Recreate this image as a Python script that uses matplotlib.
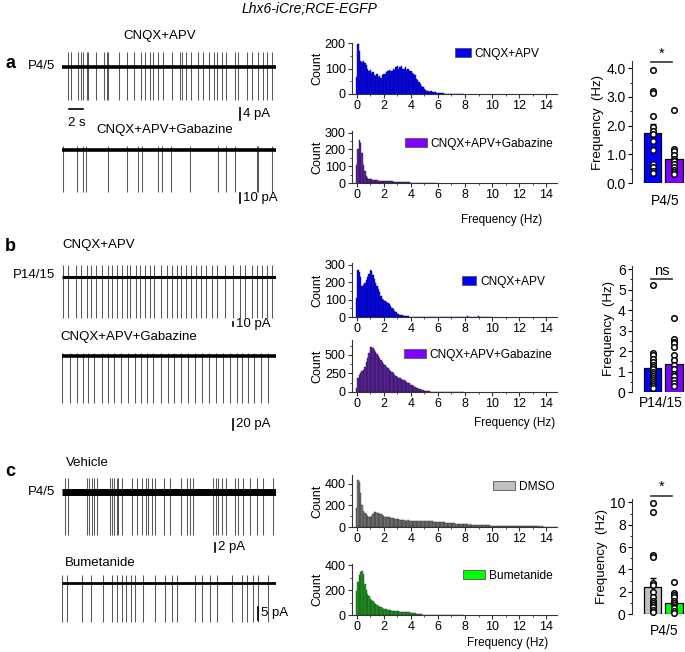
import numpy as np
import matplotlib
matplotlib.use("Agg")
import matplotlib.pyplot as plt
from matplotlib.patches import Patch
from matplotlib.ticker import MultipleLocator

plt.rcParams['font.family'] = ['Liberation Sans', 'DejaVu Sans']

W, H = 685, 652
PPS = 7.0  # trace pixels per second
DUR = 30.5

# ---- spike times (s) for the example traces ----
a_ctrl_events = [0.81, 1.29, 2.24, 2.71, 2.95, 3.52, 3.76, 4.81, 6.05, 6.38, 6.62, 8.14,
                 9.24, 10.33, 11.29, 11.86, 12.57, 13.05, 13.76, 14.48, 15.67, 16.86,
                 17.10, 17.67, 18.43, 19.48, 20.19, 21.0, 21.76, 22.1, 22.81, 23.38,
                 24.71, 25.19, 26.38, 27.1, 28.05, 28.76, 29.24, 30.05]
a_gbz_events = [0.19, 2.1, 3.05, 3.38, 6.52, 9.24, 10.81, 11.48, 13.76, 14.33, 15.57,
                18.29, 22.24, 23.38, 24.71, 27.81, 28.05, 30.05]
b_ctrl_events = [0.19, 0.90, 1.95, 2.71, 3.52, 4.14, 4.81, 5.67, 6.52, 7.19, 7.81, 8.52,
                 9.24, 9.71, 10.52, 11.14, 11.86, 12.57, 13.19, 14.14, 14.95, 15.76,
                 16.38, 17.0, 17.67, 18.43, 19.1, 19.86, 20.52, 21.38, 22.1, 23.29,
                 24.48, 25.43, 26.14, 27.1, 27.81, 28.52, 29.24, 29.95]
b_gbz_events = [0.05, 1.14, 2.1, 3.05, 3.76, 4.62, 5.67, 6.52, 7.48, 8.43, 9.38, 10.43,
                11.29, 12.1, 13.05, 14.14, 15.19, 16.05, 17.0, 17.95, 19.0, 19.95, 21.0,
                21.95, 23.05, 24.0, 24.95, 25.76, 26.52, 27.48, 28.43, 29.48]
c_veh_events = [0.43, 0.90, 3.52, 3.86, 4.24, 4.62, 4.95, 6.86, 7.10, 7.48, 7.81, 8.05,
                8.52, 9.95, 10.67, 11.48, 11.95, 12.33, 12.81, 13.29, 14.62, 15.43,
                17.0, 17.81, 18.29, 18.76, 21.62, 21.95, 22.33, 22.81, 23.38, 24.71,
                25.1, 25.9, 26.86, 27.81, 28.76, 30.19]
c_bum_events = [0.05, 0.67, 2.90, 4.14, 5.90, 7.10, 7.81, 8.52, 9.10, 9.86, 10.43, 11.62,
                13.29, 14.71, 15.67, 16.38, 19.0, 19.95, 21.14, 22.1, 24.24, 25.67,
                26.38, 27.33, 28.05, 29.48]

# ---- inter-event frequency histograms, 0.1 Hz bins starting at 0 ----
BIN = 0.1
hist_a_ctrl = [65, 195, 170, 130, 125, 128, 120, 112, 100, 92,
               96, 82, 86, 76, 70, 80, 66, 72, 62, 74,
               80, 78, 86, 90, 95, 92, 90, 100, 96, 105,
               108, 100, 106, 110, 100, 98, 104, 96, 100, 92,
               90, 84, 80, 74, 60, 55, 48, 40, 30, 26,
               20, 16, 12, 10, 8, 10, 8, 6, 6, 4,
               3, 3, 2, 2, 2, 1, 1, 1, 1, 1,
               1, 1, 0, 1, 0, 1, 0, 0, 1, 0]
hist_a_gbz = [105, 205, 255, 240, 180, 110, 70, 42, 30, 25,
              22, 25, 20, 18, 16, 15, 14, 13, 13, 12,
              14, 12, 13, 11, 10, 10, 9, 8, 8, 7,
              7, 6, 6, 5, 5, 4, 4, 3, 3, 3,
              2, 2, 2, 2, 1, 1, 1, 1, 1, 1,
              1, 0, 1, 0, 1, 0, 0, 1, 0, 0]
hist_b_ctrl = [110, 268, 258, 230, 178, 182, 196, 214, 232, 248,
               268, 262, 240, 220, 198, 178, 160, 142, 122, 106,
               100, 94, 88, 80, 74, 64, 54, 44, 36, 28,
               20, 16, 12, 10, 10, 8, 6, 4, 3, 2,
               2, 2, 1, 1, 2, 1, 1, 0, 1, 0,
               1, 0, 1, 0, 0, 1, 0, 0, 1, 0,
               0, 1, 0, 0, 0, 0, 1, 0, 0, 0,
               0, 0, 1, 0, 0, 0, 0, 0, 0, 1,
               0, 2, 3, 1, 0, 0, 0, 0, 1, 0,
               3, 1, 0, 0, 0, 0, 0, 0, 0, 0,
               1]
hist_b_gbz = [60, 190, 230, 260, 280, 300, 340, 400, 460, 530,
              600, 605, 590, 565, 535, 505, 480, 455, 430, 405,
              380, 360, 340, 320, 300, 285, 270, 250, 235, 220,
              205, 195, 185, 175, 165, 155, 145, 135, 125, 115,
              100, 90, 80, 70, 60, 50, 42, 36, 30, 25,
              20, 16, 13, 10, 8, 6, 5, 4, 3, 3,
              2, 2, 1, 1, 1, 1, 1, 0, 1, 0,
              1, 0, 0, 1, 0, 0, 0, 0, 0, 0]
hist_c_dmso = [180, 430, 415, 310, 200, 145, 130, 120, 105, 95,
               92, 100, 120, 140, 135, 130, 126, 124, 118, 110,
               100, 96, 92, 90, 88, 85, 82, 80, 78, 75,
               72, 70, 68, 66, 64, 62, 60, 60, 62, 60,
               60, 58, 58, 60, 57, 56, 58, 60, 56, 55,
               58, 55, 56, 60, 54, 52, 55, 50, 48, 50,
               48, 45, 46, 44, 42, 45, 40, 38, 40, 36,
               36, 34, 35, 32, 30, 32, 28, 30, 26, 28,
               26, 25, 24, 22, 24, 20, 22, 20, 18, 20,
               18, 17, 18, 16, 15, 16, 14, 15, 14, 13,
               13, 12, 13, 12, 11, 12, 10, 11, 10, 10,
               10, 9, 10, 9, 9, 8, 9, 8, 8, 8,
               8, 7, 8, 7, 7, 6, 7, 6, 6, 6,
               6, 5, 6, 5, 5, 5, 4, 5, 4, 4,
               4, 4, 4, 3, 4, 3, 3, 3, 3, 3]
hist_c_bum = [190, 265, 320, 345, 355, 330, 250, 205, 170, 150,
              125, 118, 110, 100, 92, 82, 75, 68, 62, 56,
              50, 46, 45, 42, 40, 38, 36, 34, 32, 31,
              30, 29, 28, 27, 26, 25, 24, 23, 22, 21,
              20, 18, 16, 14, 12, 10, 8, 6, 5, 4,
              4, 3, 3, 3, 2, 2, 2, 2, 1, 1,
              1, 1, 1, 1, 0, 1, 0, 1, 0, 0,
              1, 0, 0, 0, 1, 0, 0, 0, 0, 0]

# ---- mean frequency per cell (Hz) ----
a_ctrl_pts = [3.92, 3.2, 3.15, 2.35, 1.95, 1.82, 1.7, 1.45, 1.15, 0.65, 0.55, 0.42, 0.35]
a_gbz_pts = [2.55, 1.2, 1.1, 0.98, 0.85, 0.75, 0.65, 0.55, 0.45, 0.38, 0.3]
a_means, a_sem = [1.75, 0.83], [0.3, 0.18]
b_ctrl_pts = [5.2, 1.9, 1.8, 1.6, 1.45, 1.3, 1.2, 1.1, 1.0, 0.9, 0.8, 0.7, 0.6, 0.5,
              0.4, 0.3, 0.2]
b_gbz_pts = [3.6, 2.6, 2.45, 2.4, 2.2, 1.8, 1.55, 1.3, 1.1, 0.9, 0.8, 0.6, 0.45, 0.3]
b_means, b_sem = [1.15, 1.35], [0.28, 0.25]
c_dmso_pts = [9.9, 9.1, 5.3, 5.1, 2.8, 2.6, 2.0, 1.5, 1.2, 1.0, 0.8, 0.6, 0.4, 0.2]
c_bum_pts = [2.9, 1.9, 1.7, 1.5, 1.2, 1.0, 0.8, 0.6, 0.5, 0.3, 0.1]
c_means, c_sem = [2.4, 1.0], [0.85, 0.25]

BLUE, PURPLE, GRAY, GREEN = '#0000ff', '#8000ff', '#c0c0c0', '#00ff00'

fig = plt.figure(figsize=(W / 100, H / 100), dpi=100)


def rect(l, t, r, b):
    return [l / W, 1 - b / H, (r - l) / W, (b - t) / H]


def ftext(x, y, s, **kw):
    kw.setdefault('fontsize', 9.5)
    kw.setdefault('va', 'center')
    fig.text(x / W, 1 - y / H, s, **kw)


def trace(base_px, ppa, events, down, up, lw_base, dur=DUR):
    ax = fig.add_axes(rect(62, base_px - 30, 62 + dur * PPS, base_px + 60))
    ax.set_xlim(0, dur)
    ax.set_ylim(-60 / ppa, 30 / ppa)
    ax.axis('off')
    ax.vlines(events, -down, up, color='0.35', lw=0.75)
    ax.plot([0, dur], [0, 0], color='k', lw=lw_base, solid_capstyle='butt')
    return ax


def vbar(ax, t, y0, y1, label):
    ax.plot([t, t], [y0, y1], color='k', lw=1.2, clip_on=False)
    ax.text(t + 0.45, (y0 + y1) / 2, label, fontsize=9.5, va='center', ha='left',
            clip_on=False)


def hist(t, b, counts, ymax, ystep, yminor, face, edge, legc, label, leg_x, leg_y, hl):
    ax = fig.add_axes(rect(352, t, 557, b))
    x = np.arange(len(counts)) * BIN
    ax.bar(x, counts, width=BIN, color=face, edgecolor=edge, lw=0.3)
    ax.set_xlim(-0.35, 14.8)
    ax.set_ylim(0, ymax)
    ax.set_xticks(range(0, 15, 2))
    ax.xaxis.set_minor_locator(MultipleLocator(1))
    ax.yaxis.set_major_locator(MultipleLocator(ystep))
    ax.yaxis.set_minor_locator(MultipleLocator(yminor))
    for s in ('top', 'right'):
        ax.spines[s].set_visible(False)
    for s in ('left', 'bottom'):
        ax.spines[s].set_color('#333333')
        ax.spines[s].set_linewidth(0.8)
    ax.tick_params(which='both', direction='out', labelsize=9, colors='#333333',
                   labelcolor='black', pad=1.5)
    ax.tick_params(which='major', length=3)
    ax.tick_params(which='minor', length=1.5)
    ax.set_ylabel('Count', fontsize=9, labelpad=1)
    ax.legend(handles=[Patch(facecolor=legc, edgecolor='#555555', lw=0.6)],
              labels=[label], loc='center left',
              bbox_to_anchor=(leg_x / W, 1 - leg_y / H), bbox_transform=fig.transFigure,
              frameon=False, fontsize=8.6, handlelength=hl, handleheight=0.75,
              handletextpad=0.3, borderpad=0, borderaxespad=0)
    return ax


def bars(t, b, ymax, means, sem, pts, colors, step, minor, fmt, cat, cat_x, sig, sig_y,
         cat_pad):
    ax = fig.add_axes(rect(632, t, 685, b))
    ax.bar([0, 1], means, width=0.82, color=colors, edgecolor='black', lw=0.9, zorder=1)
    ax.errorbar([0, 1], means, yerr=sem, fmt='none', ecolor='black', elinewidth=1,
                capsize=2, zorder=2)
    for i, p in enumerate(pts):
        ax.scatter(np.full(len(p), i), p, s=16, facecolor='white', edgecolor='black',
                   lw=1.1, zorder=3, clip_on=False)
    ax.set_xlim(-0.95, 1.5)
    ax.set_ylim(0, ymax)
    ax.plot([-0.05, 0.9], [sig_y, sig_y], color='#333333', lw=1.2, clip_on=False)
    ax.text(0.42, sig_y * 1.015, sig, ha='center', va='bottom', fontsize=10.5,
            clip_on=False)
    ax.yaxis.set_major_locator(MultipleLocator(step))
    ax.yaxis.set_minor_locator(MultipleLocator(minor))
    ax.yaxis.set_major_formatter(fmt)
    for s in ('top', 'right', 'bottom'):
        ax.spines[s].set_visible(False)
    ax.spines['left'].set_color('#333333')
    ax.tick_params(axis='y', which='both', direction='out', labelsize=10, pad=1.5)
    ax.tick_params(axis='y', which='major', length=3)
    ax.tick_params(axis='y', which='minor', length=1.5)
    ax.set_xticks([cat_x])
    ax.set_xticklabels([cat], fontsize=10)
    ax.tick_params(axis='x', length=0, pad=cat_pad)
    ax.set_ylabel('Frequency  (Hz)', fontsize=9.5, labelpad=2)
    return ax


# ---- title and panel letters ----
ftext(242, 9, 'Lhx6-iCre;RCE-EGFP', fontsize=10, style='italic', ha='left')
for letter, y in (('a', 63), ('b', 247), ('c', 472)):
    ftext(10, y, letter, fontsize=13, fontweight='bold', ha='center')

# ---- panel a traces ----
ftext(160, 36, 'CNQX+APV', ha='center')
ftext(55, 66, 'P4/5', ha='right')
ax = trace(67, 3.0, a_ctrl_events, 11, 5, 2.6)
vbar(ax, 25.4, -13.7, -17.7, '4 pA')
ax.plot([1.0, 3.0], [-14, -14], color='k', lw=1.2, clip_on=False)
ax.text(2.1, -18.5, '2 s', ha='center', va='center', fontsize=9.5)
ftext(165, 130, 'CNQX+APV+Gabazine', ha='center')
ax = trace(150, 1.0, a_gbz_events, 42, 4, 2.6)
vbar(ax, 25.4, -43, -53, '10 pA')

# ---- panel b traces ----
ftext(62, 245, 'CNQX+APV', ha='left')
ftext(55, 275, 'P14/15', ha='right')
ax = trace(277, 0.3, b_ctrl_events, 137, 40, 2.2)
vbar(ax, 24.4, -150, -163, '10 pA')
ftext(60, 337, 'CNQX+APV+Gabazine', ha='left')
ax = trace(356, 0.55, b_gbz_events, 85, 6, 2.6)
vbar(ax, 24.4, -114.5, -134.5, '20 pA')

# ---- panel c traces ----
ftext(66, 463, 'Vehicle', ha='left')
ftext(55, 492, 'P4/5', ha='right')
ax = trace(492, 4.5, c_veh_events, 9.5, 3.2, 5.0)
vbar(ax, 21.9, -11.3, -13.3, '2 pA')
ftext(65, 563, 'Bumetanide', ha='left')
ax = trace(583, 2.6, c_bum_events, 15, 3.0, 2.0)
vbar(ax, 28.0, -9.2, -14.2, '5 pA')

# ---- histograms ----
hist(43, 94, hist_a_ctrl, 200, 100, 50, '#0a0aee', '#00009a', BLUE, 'CNQX+APV', 455, 54, 1.3)
hist(131, 183, hist_a_gbz, 310, 100, 50, '#6228b0', '#2a1040', PURPLE, 'CNQX+APV+Gabazine',
     405, 144, 1.85)
hist(263, 317, hist_b_ctrl, 310, 100, 50, '#0a0aee', '#00009a', BLUE, 'CNQX+APV', 462, 282, 1.2)
hist(340, 392, hist_b_gbz, 700, 250, 125, '#6228b0', '#2a1040', PURPLE, 'CNQX+APV+Gabazine',
     404, 355, 1.85)
hist(475, 527, hist_c_dmso, 480, 200, 100, '#808080', '#303030', GRAY, 'DMSO', 493, 487, 1.85)
hist(564, 615, hist_c_bum, 410, 200, 100, '#22a022', '#1a4a1a', GREEN, 'Bumetanide',
     463, 576, 1.85)
for y, x in ((220, 502), (423, 515), (643, 508)):
    ftext(x, y, 'Frequency (Hz)', ha='center', fontsize=8.5)

# ---- bar charts ----
bars(61, 183, 4.25, a_means, a_sem, [a_ctrl_pts, a_gbz_pts], [BLUE, PURPLE], 1.0, 0.5,
     '{x:.1f}', 'P4/5', 0.57, '*', 4.2, 8)
bars(266, 392, 6.15, b_means, b_sem, [b_ctrl_pts, b_gbz_pts], [BLUE, PURPLE], 1, 0.5,
     '{x:.0f}', 'P14/15', 0.40, 'ns', 5.5, 3)
bars(499, 614, 10.3, c_means, c_sem, [c_dmso_pts, c_bum_pts], [GRAY, GREEN], 2, 1,
     '{x:.0f}', 'P4/5', 0.53, '*', 10.6, 7)

fig.savefig('out.png', dpi=100)
